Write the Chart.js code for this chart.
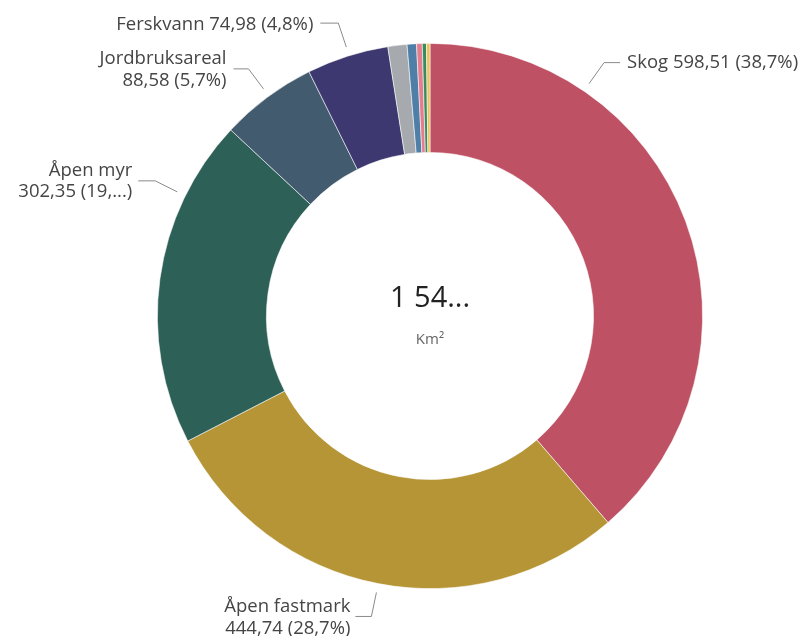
<!DOCTYPE html>
<html>
<head>
<meta charset="utf-8">
<script src="https://cdn.jsdelivr.net/npm/chart.js@4"></script>
<style>
  html, body { margin: 0; padding: 0; background: #ffffff; }
  #wrap { width: 805px; height: 636px; position: relative; }
</style>
</head>
<body>
<div id="wrap"><canvas id="c" width="805" height="636"></canvas></div>
<script>
// ---- data ----
const categories = ["Skog", "Åpen fastmark", "Åpen myr", "Jordbruksareal", "Ferskvann",
                    "Bebygd", "Samferdsel", "Snø og isbre", "Hav", "Ikke kartlagt"];
const areaKm2 = [598.51, 444.74, 302.35, 88.58, 74.98, 17.5, 8.6, 5.2, 3.8, 3.2];
const unitLabel = "Km²";

// ---- styles ----
const sliceColors = ["#BE5163", "#B59536", "#2D6057", "#435B6F", "#3D386F",
                     "#A6AAAE", "#4F7FA7", "#E47D8E", "#3B8A5F", "#E9C35B"];

// label layout (relative to the arc): fraction along arc, elbow offset, horizontal run, baselines
const labelLayout = {
  0: { f: 0.247, elbow: [15, -21], run: 16,  gap: 7, lines: 1, base: [5] },
  1: { f: 0.50,  elbow: [-5, 24],  run: -16, gap: 5, lines: 2, base: [-4, 18] },
  2: { f: 0.76,  elbow: [-22, -11], run: -17, gap: 6, lines: 2, base: [-5, 16], truncPct: true },
  3: { f: 0.52,  elbow: [-15, -20], run: -15, gap: 7, lines: 2, base: [-5, 17] },
  4: { f: 0.52,  elbow: [-8, -24], run: -18, gap: 7, lines: 1, base: [7] }
};

function fmt(v) { return v.toFixed(2).replace('.', ','); }
function fmtTotal(v) {
  const s = v.toFixed(2).replace('.', ',');
  const [i, d] = s.split(',');
  return i.replace(/\B(?=(\d{3})+(?!\d))/g, ' ') + ',' + d;
}

const total = areaKm2.reduce((a, b) => a + b, 0);

const labelPlugin = {
  id: 'outLabels',
  afterDatasetsDraw(chart) {
    const ctx = chart.ctx;
    const meta = chart.getDatasetMeta(0);
    ctx.save();
    Object.keys(labelLayout).forEach(k => {
      const i = +k;
      const L = labelLayout[i];
      const arc = meta.data[i];
      const ang = arc.startAngle + L.f * (arc.endAngle - arc.startAngle);
      const r = arc.outerRadius + 9;
      const sx = arc.x + r * Math.cos(ang);
      const sy = arc.y + r * Math.sin(ang);
      const ex = sx + L.elbow[0], ey = sy + L.elbow[1];
      const hx = ex + L.run;
      ctx.strokeStyle = '#8a8a8a';
      ctx.lineWidth = 1;
      ctx.beginPath();
      ctx.moveTo(sx, sy);
      ctx.lineTo(ex, ey);
      ctx.lineTo(hx, ey);
      ctx.stroke();

      const pct = areaKm2[i] / total * 100;
      let pctTxt = pct.toFixed(1).replace('.', ',') + '%';
      if (L.truncPct) pctTxt = Math.floor(pct) + ',...';
      const valTxt = fmt(areaKm2[i]) + ' (' + pctTxt + ')';
      const lines = L.lines === 1 ? [categories[i] + ' ' + valTxt] : [categories[i], valTxt];
      ctx.font = '18.5px "Open Sans"';
      ctx.fillStyle = '#454545';
      ctx.textBaseline = 'alphabetic';
      const right = L.run < 0;
      ctx.textAlign = right ? 'right' : 'left';
      const tx = right ? hx - L.gap : hx + L.gap;
      lines.forEach((t, j) => ctx.fillText(t, tx, ey + L.base[j]));
    });

    // centre text
    const a0 = meta.data[0];
    const cx = a0.x, cy = a0.y;
    ctx.textAlign = 'center';
    ctx.textBaseline = 'alphabetic';
    ctx.fillStyle = '#222222';
    ctx.font = '29px "Open Sans"';
    const tot = fmtTotal(total).slice(0, 4) + '...';
    ctx.fillText(tot, cx, cy - 9);
    ctx.fillStyle = '#666666';
    ctx.font = '15px "Open Sans"';
    ctx.fillText(unitLabel, cx, cy + 28);
    ctx.restore();
  }
};

new Chart(document.getElementById('c'), {
  type: 'doughnut',
  data: {
    labels: categories,
    datasets: [{
      data: areaKm2,
      backgroundColor: sliceColors,
      borderColor: 'rgba(255,255,255,0.7)',
      borderWidth: 0.8,
      hoverOffset: 0
    }]
  },
  options: {
    responsive: false,
    animation: false,
    cutout: '60%',
    layout: { padding: { top: 43, bottom: 47, left: 157, right: 102 } },
    plugins: { legend: { display: false }, tooltip: { enabled: false } }
  },
  plugins: [labelPlugin]
});
</script>
</body>
</html>
